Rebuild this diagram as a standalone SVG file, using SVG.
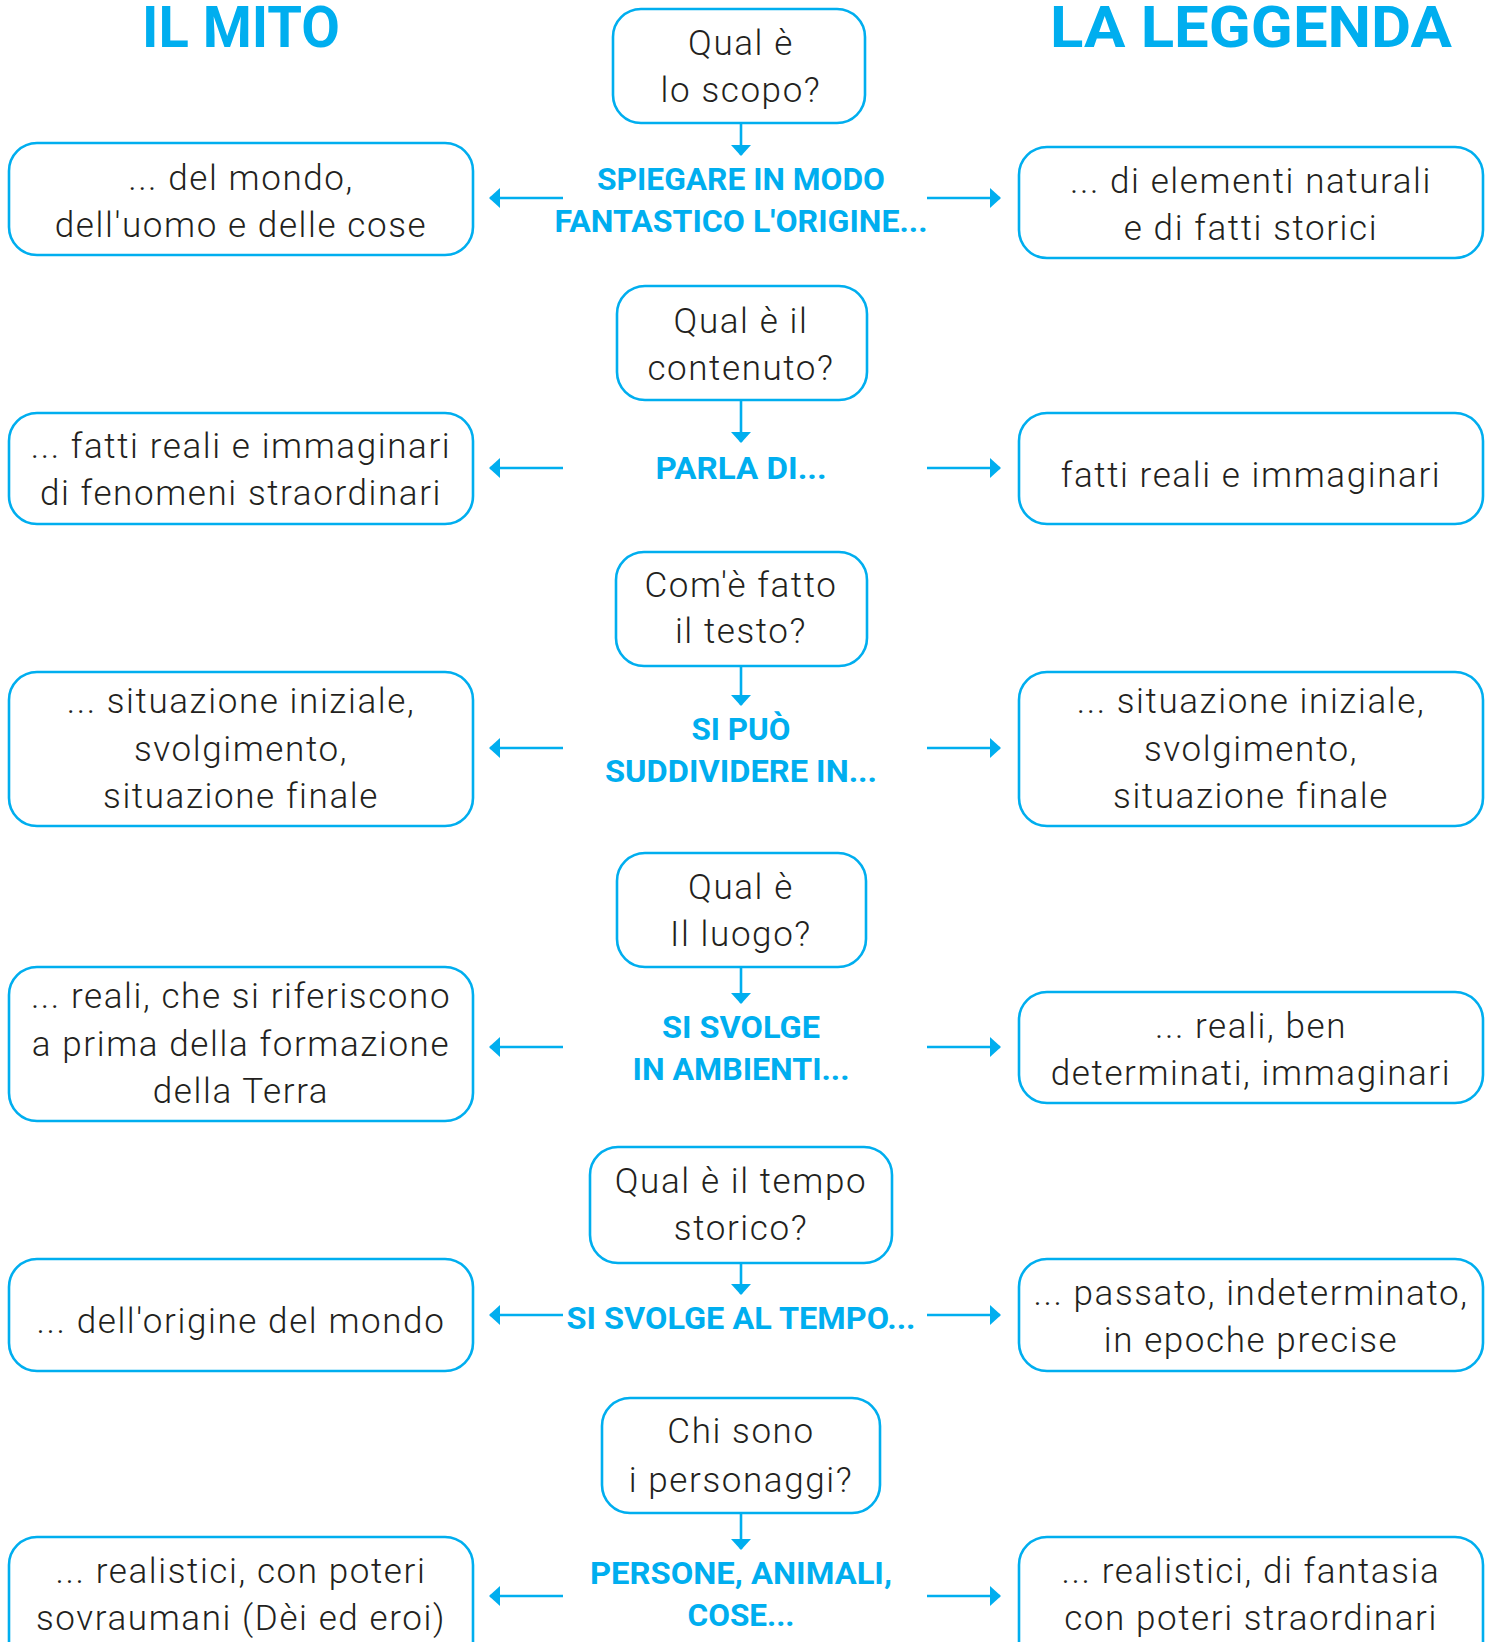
<svg xmlns="http://www.w3.org/2000/svg" width="1492" height="1642" viewBox="0 0 1492 1642">
<defs>
<style>
.box{fill:#fff;stroke:#00AEEF;stroke-width:2.6}
.t{font-family:Roboto,"Liberation Sans",sans-serif;font-weight:300;font-size:35px;fill:#231F20;text-anchor:middle;letter-spacing:1.6px}
.lbl{font-family:Roboto,"Liberation Sans",sans-serif;font-weight:700;font-size:31px;fill:#00AEEF;text-anchor:middle}
.hd{font-family:Roboto,"Liberation Sans",sans-serif;font-weight:700;font-size:58px;fill:#00AEEF;text-anchor:middle}
.c{stroke:#00AEEF;stroke-width:2.6;fill:none;marker-end:url(#ah)}
</style>
<marker id="ah" markerUnits="userSpaceOnUse" markerWidth="11" markerHeight="20" refX="10" refY="10" orient="auto" viewBox="0 0 11 20">
<path d="M0,0 L11,10 L0,20 z" fill="#00AEEF"/>
</marker>
</defs>
<rect width="1492" height="1642" fill="#fff"/>

<g id="headings">
<text class="hd" x="241" y="47" textLength="198" lengthAdjust="spacingAndGlyphs">IL MITO</text>
<text class="hd" x="1251" y="47" textLength="402" lengthAdjust="spacingAndGlyphs">LA LEGGENDA</text>
</g>

<g id="connectors">
<line class="c" x1="741" y1="123" x2="741" y2="155"/>
<line class="c" x1="563" y1="198" x2="490" y2="198"/>
<line class="c" x1="927" y1="198" x2="1000" y2="198"/>
<line class="c" x1="741" y1="400" x2="741" y2="442"/>
<line class="c" x1="563" y1="468" x2="490" y2="468"/>
<line class="c" x1="927" y1="468" x2="1000" y2="468"/>
<line class="c" x1="741" y1="666" x2="741" y2="705"/>
<line class="c" x1="563" y1="748" x2="490" y2="748"/>
<line class="c" x1="927" y1="748" x2="1000" y2="748"/>
<line class="c" x1="741" y1="967" x2="741" y2="1003"/>
<line class="c" x1="563" y1="1047" x2="490" y2="1047"/>
<line class="c" x1="927" y1="1047" x2="1000" y2="1047"/>
<line class="c" x1="741" y1="1263" x2="741" y2="1294"/>
<line class="c" x1="563" y1="1315" x2="490" y2="1315"/>
<line class="c" x1="927" y1="1315" x2="1000" y2="1315"/>
<line class="c" x1="741" y1="1513" x2="741" y2="1549"/>
<line class="c" x1="563" y1="1596" x2="490" y2="1596"/>
<line class="c" x1="927" y1="1596" x2="1000" y2="1596"/>
</g>

<g id="q1"><rect class="box" x="613" y="9" width="252" height="114" rx="28"/>
<text class="t" x="741" y="55">Qual è</text><text class="t" x="741" y="102">lo scopo?</text></g>
<g id="l1"><text class="lbl" x="741" y="190" textLength="288" lengthAdjust="spacingAndGlyphs">SPIEGARE IN MODO</text>
<text class="lbl" x="741" y="232" textLength="373" lengthAdjust="spacingAndGlyphs">FANTASTICO L'ORIGINE...</text></g>
<g id="m1"><rect class="box" x="9" y="143" width="464" height="112" rx="28"/>
<text class="t" x="241" y="190">... del mondo,</text><text class="t" x="241" y="237">dell'uomo e delle cose</text></g>
<g id="g1"><rect class="box" x="1019" y="147" width="464" height="111" rx="28"/>
<text class="t" x="1251" y="193">... di elementi naturali</text><text class="t" x="1251" y="240">e di fatti storici</text></g>

<g id="q2"><rect class="box" x="617" y="286" width="250" height="114" rx="28"/>
<text class="t" x="741" y="333">Qual è il</text><text class="t" x="741" y="380">contenuto?</text></g>
<g id="l2"><text class="lbl" x="741" y="479" textLength="171" lengthAdjust="spacingAndGlyphs">PARLA DI...</text></g>
<g id="m2"><rect class="box" x="9" y="413" width="464" height="111" rx="28"/>
<text class="t" x="241" y="458">... fatti reali e immaginari</text><text class="t" x="241" y="505">di fenomeni straordinari</text></g>
<g id="g2"><rect class="box" x="1019" y="413" width="464" height="111" rx="28"/>
<text class="t" x="1251" y="487">fatti reali e immaginari</text></g>

<g id="q3"><rect class="box" x="616" y="552" width="251" height="114" rx="28"/>
<text class="t" x="741" y="597">Com'è fatto</text><text class="t" x="741" y="643">il testo?</text></g>
<g id="l3"><text class="lbl" x="741" y="740" textLength="99" lengthAdjust="spacingAndGlyphs">SI PUÒ</text>
<text class="lbl" x="741" y="782" textLength="272" lengthAdjust="spacingAndGlyphs">SUDDIVIDERE IN...</text></g>
<g id="m3"><rect class="box" x="9" y="672" width="464" height="154" rx="28"/>
<text class="t" x="241" y="713">... situazione iniziale,</text><text class="t" x="241" y="761">svolgimento,</text><text class="t" x="241" y="808">situazione finale</text></g>
<g id="g3"><rect class="box" x="1019" y="672" width="464" height="154" rx="28"/>
<text class="t" x="1251" y="713">... situazione iniziale,</text><text class="t" x="1251" y="761">svolgimento,</text><text class="t" x="1251" y="808">situazione finale</text></g>

<g id="q4"><rect class="box" x="617" y="853" width="249" height="114" rx="28"/>
<text class="t" x="741" y="899">Qual è</text><text class="t" x="741" y="946">Il luogo?</text></g>
<g id="l4"><text class="lbl" x="741" y="1038" textLength="158" lengthAdjust="spacingAndGlyphs">SI SVOLGE</text>
<text class="lbl" x="741" y="1080" textLength="217" lengthAdjust="spacingAndGlyphs">IN AMBIENTI...</text></g>
<g id="m4"><rect class="box" x="9" y="967" width="464" height="154" rx="28"/>
<text class="t" x="241" y="1008">... reali, che si riferiscono</text><text class="t" x="241" y="1056">a prima della formazione</text><text class="t" x="241" y="1103">della Terra</text></g>
<g id="g4"><rect class="box" x="1019" y="992" width="464" height="111" rx="28"/>
<text class="t" x="1251" y="1038">... reali, ben</text><text class="t" x="1251" y="1085">determinati, immaginari</text></g>

<g id="q5"><rect class="box" x="590" y="1147" width="302" height="116" rx="28"/>
<text class="t" x="741" y="1193">Qual è il tempo</text><text class="t" x="741" y="1240">storico?</text></g>
<g id="l5"><text class="lbl" x="741" y="1329" textLength="349" lengthAdjust="spacingAndGlyphs">SI SVOLGE AL TEMPO...</text></g>
<g id="m5"><rect class="box" x="9" y="1259" width="464" height="112" rx="28"/>
<text class="t" x="241" y="1333">... dell'origine del mondo</text></g>
<g id="g5"><rect class="box" x="1019" y="1259" width="464" height="112" rx="28"/>
<text class="t" x="1251" y="1305">... passato, indeterminato,</text><text class="t" x="1251" y="1352">in epoche precise</text></g>

<g id="q6"><rect class="box" x="602" y="1398" width="278" height="115" rx="28"/>
<text class="t" x="741" y="1443">Chi sono</text><text class="t" x="741" y="1492">i personaggi?</text></g>
<g id="l6"><text class="lbl" x="741" y="1584" textLength="302" lengthAdjust="spacingAndGlyphs">PERSONE, ANIMALI,</text>
<text class="lbl" x="741" y="1626" textLength="107" lengthAdjust="spacingAndGlyphs">COSE...</text></g>
<g id="m6"><rect class="box" x="9" y="1537" width="464" height="140" rx="28"/>
<text class="t" x="241" y="1583">... realistici, con poteri</text><text class="t" x="241" y="1630">sovraumani (Dèi ed eroi)</text></g>
<g id="g6"><rect class="box" x="1019" y="1537" width="464" height="140" rx="28"/>
<text class="t" x="1251" y="1583">... realistici, di fantasia</text><text class="t" x="1251" y="1630">con poteri straordinari</text></g>
</svg>
